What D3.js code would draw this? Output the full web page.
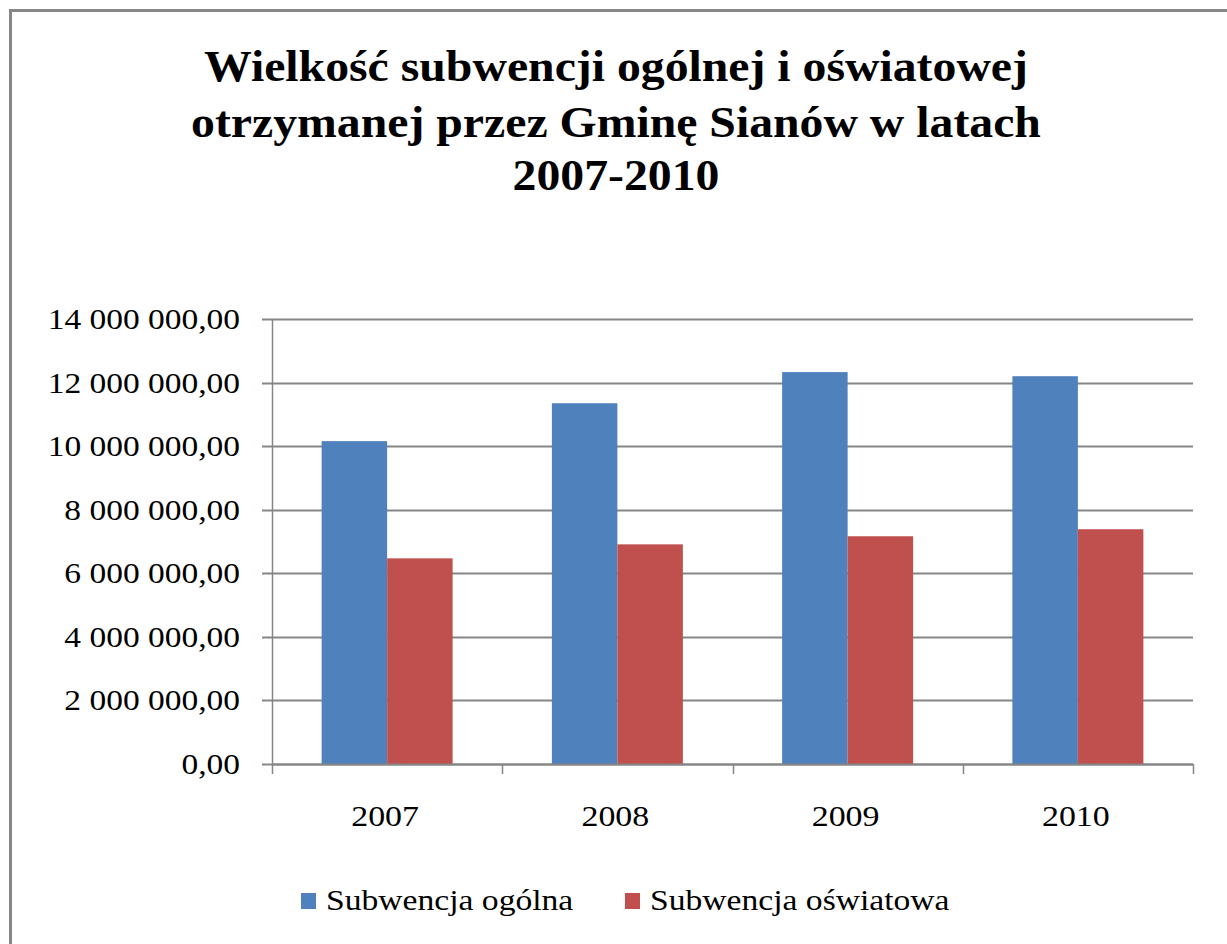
<!DOCTYPE html>
<html><head><meta charset="utf-8">
<script src="https://cdn.jsdelivr.net/npm/d3@7"></script>
<style>html,body{margin:0;padding:0;background:#fff;}svg{display:block;}</style>
</head><body>
<script>
const categories = ["2007", "2008", "2009", "2010"];
const seriesNames = ["Subwencja ogólna", "Subwencja oświatowa"];
const ogolna = [10157000, 11350000, 12330000, 12200000];
const oswiatowa = [6470000, 6910000, 7165000, 7386000];
const yTicks = [0, 2000000, 4000000, 6000000, 8000000, 10000000, 12000000, 14000000];
const titleLines = ["Wielkość subwencji ogólnej i oświatowej", "otrzymanej przez Gminę Sianów w latach", "2007-2010"];
const colors = ["#4f81bd", "#c0504d"];

const W = 1227, H = 944;
const svg = d3.select("body").append("svg").attr("width", W).attr("height", H);
svg.append("rect").attr("x", 0).attr("y", 0).attr("width", W).attr("height", H).attr("fill", "#fff");
// chart frame
svg.append("rect").attr("x", 10.5).attr("y", 10.5).attr("width", W + 20).attr("height", H + 20)
  .attr("fill", "none").attr("stroke", "#868686").attr("stroke-width", 3);

const serif = "'Liberation Serif','Times New Roman',serif";

function stretch(sel, factor) {
  sel.each(function () {
    const len = this.getComputedTextLength();
    d3.select(this).attr("textLength", len * factor).attr("lengthAdjust", "spacingAndGlyphs");
  });
}

// title
const title = svg.append("g").selectAll("text").data(titleLines).join("text")
  .attr("x", 616).attr("y", (d, i) => [81, 137, 190][i])
  .attr("text-anchor", "middle").attr("font-family", serif).attr("font-weight", "bold")
  .attr("font-size", 44).attr("fill", "#000").text(d => d);
stretch(title, 1.085);

const m = {left: 272, right: 1193, top: 319, bottom: 764};
const x0 = d3.scaleBand().domain(categories).range([m.left, m.right]).paddingInner(0).paddingOuter(0);
const y = d3.scaleLinear().domain([0, 14000000]).range([m.bottom, m.top]);

const fmt = v => {
  const s = d3.format(",.2f")(v);
  return s.replace(/,/g, " ").replace(".", ",");
};

// gridlines
svg.append("g").selectAll("line").data(yTicks).join("line")
  .attr("x1", m.left - 10).attr("x2", m.right).attr("y1", d => Math.round(y(d)) + 0.5).attr("y2", d => Math.round(y(d)) + 0.5)
  .attr("stroke", "#868686").attr("stroke-width", 2);

// y axis line
svg.append("line").attr("x1", m.left + 0.5).attr("x2", m.left + 0.5).attr("y1", m.top).attr("y2", m.bottom)
  .attr("stroke", "#868686").attr("stroke-width", 1.5);

// y labels
const yl = svg.append("g").selectAll("text").data(yTicks).join("text")
  .attr("x", 240).attr("y", d => y(d) + 10).attr("text-anchor", "end")
  .attr("font-family", serif).attr("font-size", 30).attr("fill", "#000").text(fmt);
stretch(yl, 1.115);

// bars
const groups = categories.map((c, i) => ({c, vals: [ogolna[i], oswiatowa[i]]}));
const bw = 65.5;
svg.append("g").selectAll("g").data(groups).join("g")
  .attr("transform", d => `translate(${x0(d.c) + x0.bandwidth() / 2},0)`)
  .selectAll("rect").data(d => d.vals.map((v, k) => ({v, k}))).join("rect")
  .attr("x", d => d.k === 0 ? -bw : 0).attr("width", bw)
  .attr("y", d => y(d.v)).attr("height", d => y(0) - y(d.v))
  .attr("fill", d => colors[d.k]);

// x axis
const xAxisG = svg.append("g");
xAxisG.append("line").attr("x1", m.left).attr("x2", m.right).attr("y1", m.bottom + 0.5).attr("y2", m.bottom + 0.5)
  .attr("stroke", "#868686").attr("stroke-width", 2);
const tickXs = categories.map(c => x0(c)).concat([m.right]);
xAxisG.selectAll("line.t").data(tickXs).join("line").attr("class", "t")
  .attr("x1", d => Math.round(d) + 0.5).attr("x2", d => Math.round(d) + 0.5)
  .attr("y1", m.bottom).attr("y2", m.bottom + 10).attr("stroke", "#868686").attr("stroke-width", 1.5);
const xl = xAxisG.selectAll("text").data(categories).join("text")
  .attr("x", d => x0(d) + x0.bandwidth() / 2 - 2).attr("y", 826).attr("text-anchor", "middle")
  .attr("font-family", serif).attr("font-size", 30).attr("fill", "#000").text(d => d);
stretch(xl, 1.13);

// legend
const legX = [301, 625];
const lg = svg.append("g").selectAll("g").data(seriesNames).join("g")
  .attr("transform", (d, i) => `translate(${legX[i]},893)`);
lg.append("rect").attr("width", 15).attr("height", 16).attr("fill", (d, i) => colors[i]);
const lt = lg.append("text").attr("x", 25).attr("y", 17).attr("font-family", serif).attr("font-size", 30)
  .attr("fill", "#000").text(d => d);
stretch(lt, 1.12);
</script>
</body></html>
